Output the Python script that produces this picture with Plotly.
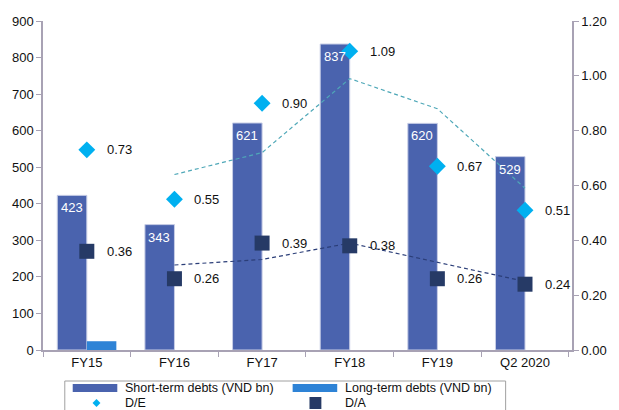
import plotly.graph_objects as go

categories = ["FY15", "FY16", "FY17", "FY18", "FY19", "Q2 2020"]
short_term = [423, 343, 621, 837, 620, 529]
long_term = [24, None, None, None, None, None]
de_ratio = [0.73, 0.55, 0.90, 1.09, 0.67, 0.51]
da_ratio = [0.36, 0.26, 0.39, 0.38, 0.26, 0.24]
de_trend = [None, 0.64, 0.72, 0.99, 0.88, 0.59]
da_trend = [None, 0.31, 0.33, 0.39, 0.32, 0.25]
left_ticks = list(range(0, 901, 100))
right_ticks = [0.0, 0.2, 0.4, 0.6, 0.8, 1.0, 1.2]

FONT = "Liberation Sans, Arial, sans-serif"
C_SHORT = "#4A63AE"
C_LONG = "#2E83D6"
C_DE = "#00B0F0"
C_DA = "#263A66"
C_DE_TR = "#4FA8B8"
C_DA_TR = "#2B3E78"
AX = "#A8A2B4"

W, H = 619, 410
L, R, T, B = 43, 42, 21, 60
PW, PH = W - L - R, H - T - B

fig = go.Figure()
fig.add_trace(go.Bar(x=categories, y=short_term, name="Short-term debts (VND bn)",
                     marker=dict(color=C_SHORT, line=dict(color="#C8CEE6", width=1)),
                     showlegend=False))
fig.add_trace(go.Bar(x=categories, y=long_term, name="Long-term debts (VND bn)",
                     marker=dict(color=C_LONG, line=dict(width=0)), showlegend=False))
fig.add_trace(go.Scatter(x=categories, y=de_trend, yaxis="y2", mode="lines",
                         line=dict(color=C_DE_TR, width=1.2, dash="4px,3px"), showlegend=False))
fig.add_trace(go.Scatter(x=categories, y=da_trend, yaxis="y2", mode="lines",
                         line=dict(color=C_DA_TR, width=1.2, dash="4px,3px"), showlegend=False))
fig.add_trace(go.Scatter(x=categories, y=de_ratio, yaxis="y2", mode="markers", name="D/E",
                         marker=dict(symbol="diamond", size=13, color=C_DE), showlegend=False))
fig.add_trace(go.Scatter(x=categories, y=da_ratio, yaxis="y2", mode="markers", name="D/A",
                         marker=dict(symbol="square", size=15, color=C_DA), showlegend=False))

annotations = []
# bar value labels, inside the top of the short-term bars
for c, v in zip(categories, short_term):
    annotations.append(dict(x=c, y=v, xref="x", yref="y", text=str(v), showarrow=False,
                            xanchor="center", yanchor="top", xshift=-15, yshift=-3,
                            font=dict(size=13, color="white", family=FONT)))
for c, v in zip(categories, de_ratio):
    annotations.append(dict(x=c, y=v, yref="y2", xref="x", text=f"{v:.2f}", showarrow=False,
                            xanchor="left", xshift=18, font=dict(size=13, color="#111", family=FONT)))
for c, v in zip(categories, da_ratio):
    annotations.append(dict(x=c, y=v, yref="y2", xref="x", text=f"{v:.2f}", showarrow=False,
                            xanchor="left", xshift=18, font=dict(size=13, color="#111", family=FONT)))

def px(xp):
    return (xp - L) / PW

def py(yp):
    return (H - B - yp) / PH

shapes = []
# legend box
shapes.append(dict(type="rect", xref="paper", yref="paper", x0=px(65), x1=px(510),
                   y0=py(430), y1=py(381), line=dict(color="#A0A0A0", width=1), fillcolor="white", layer="above"))
legend_items = [
    ("rect", C_SHORT, 73, 388, "Short-term debts (VND bn)", 124),
    ("rect", C_LONG, 295, 388, "Long-term debts (VND bn)", 346),
    ("diamond", C_DE, 97, 403, "D/E", 124),
    ("square", C_DA, 318, 403, "D/A", 346),
]
for kind, col, sx, sy, label, tx in legend_items:
    if kind == "rect":
        shapes.append(dict(type="rect", xref="paper", yref="paper", x0=px(sx), x1=px(sx + 45),
                           y0=py(sy + 4), y1=py(sy - 4), line=dict(width=0), fillcolor=col, layer="above"))
    elif kind == "diamond":
        d = 4
        path = (f"M {px(sx-d)} {py(sy)} L {px(sx)} {py(sy-d)} L {px(sx+d)} {py(sy)} "
                f"L {px(sx)} {py(sy+d)} Z")
        shapes.append(dict(type="path", xref="paper", yref="paper", path=path,
                           line=dict(width=0), fillcolor=col, layer="above"))
    else:
        d = 6
        shapes.append(dict(type="rect", xref="paper", yref="paper", x0=px(sx - d), x1=px(sx + d),
                           y0=py(sy + d), y1=py(sy - d), line=dict(width=0), fillcolor=col, layer="above"))
    annotations.append(dict(xref="paper", yref="paper", x=px(tx), y=py(sy), text=label,
                            showarrow=False, xanchor="left", yanchor="middle",
                            font=dict(size=12.5, color="#111", family=FONT)))

fig.update_layout(
    width=W, height=H, autosize=False,
    margin=dict(l=L, r=R, t=T, b=B, pad=0),
    paper_bgcolor="white", plot_bgcolor="white",
    font=dict(family=FONT, size=13, color="#111"),
    barmode="group", bargap=0.326, bargroupgap=0,
    xaxis=dict(type="category", showline=True, linecolor=AX, linewidth=1.5,
               ticks="outside", tickson="boundaries", ticklen=5, tickcolor=AX,
               showgrid=False, tickfont=dict(size=13, family=FONT)),
    yaxis=dict(range=[0, 900], tickvals=left_ticks, showline=True, linecolor=AX, linewidth=1.5,
               ticks="outside", ticklen=5, tickcolor=AX, showgrid=False, zeroline=False,
               tickfont=dict(size=13, family=FONT)),
    yaxis2=dict(range=[0, 1.2], tickvals=right_ticks, tickformat=".2f", overlaying="y", side="right",
                showline=True, linecolor=AX, linewidth=1.5, ticks="outside", ticklen=5, tickcolor=AX,
                showgrid=False, zeroline=False, tickfont=dict(size=13, family=FONT)),
    annotations=annotations, shapes=shapes, showlegend=False,
)

fig.write_html("out.html")
